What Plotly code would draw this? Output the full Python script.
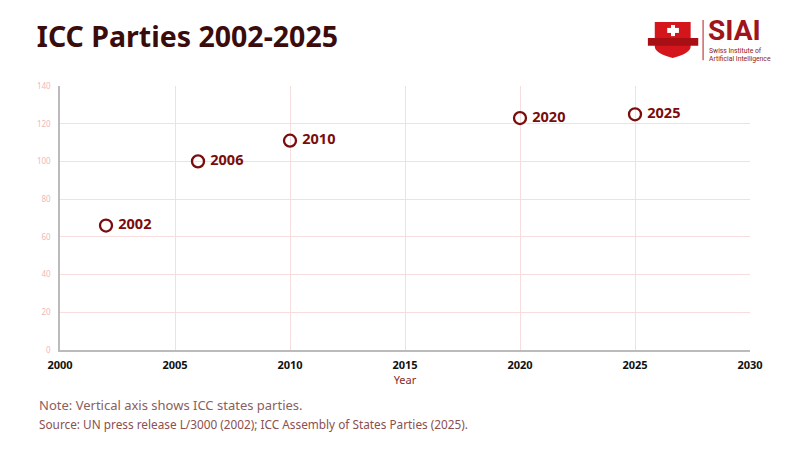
import plotly.graph_objects as go

years = [2002, 2006, 2010, 2020, 2025]
parties = [66, 100, 111, 123, 125]
labels = [str(y) for y in years]

dark = "#7a0c0c"
fig = go.Figure()
fig.add_trace(go.Scatter(
    x=years, y=parties, mode="markers+text",
    text=[" " + s for s in labels], textposition="middle right",
    textfont=dict(family="Noto Sans", size=14.5, color=dark, weight="bold"),
    marker=dict(symbol="circle-open", size=12, color=dark, line=dict(width=2.3, color=dark)),
    cliponaxis=False, showlegend=False, hoverinfo="skip",
))

fig.update_layout(
    width=800, height=450,
    margin=dict(l=52, r=58, t=78, b=108),
    paper_bgcolor="white", plot_bgcolor="white",
    font=dict(family="Noto Sans"),
    title=dict(text="<b>ICC Parties 2002-2025</b>", xref="container", x=0.036, xanchor="left",
               yref="container", y=0.935, yanchor="middle",
               font=dict(family="Noto Sans", size=28.5, color="#3b0c0c")),
    xaxis=dict(range=[2000, 2030], tickmode="linear", tick0=2000, dtick=5,
               showgrid=True, gridcolor="#f7dede", gridwidth=1,
               showline=True, linecolor="#bbbbbb", linewidth=1.5, zeroline=False,
               tickfont=dict(size=11, color="#111111", weight="bold"),
               title=dict(text="Year", font=dict(size=11, color="#8a2a2a"), standoff=4),
               ticks="", ticklabelstandoff=4),
    yaxis=dict(range=[0, 140], tickmode="linear", tick0=0, dtick=20,
               showgrid=True, gridcolor="#f7dede", gridwidth=1,
               showline=True, linecolor="#bbbbbb", linewidth=1.5, zeroline=False,
               tickfont=dict(size=8, color="#f0b8b8"), ticks="", ticklabelstandoff=6),
)

fig.add_annotation(text="Note: Vertical axis shows ICC states parties.", xref="paper", yref="paper",
                   x=-0.033, y=-0.208, xanchor="left", yanchor="middle", showarrow=False,
                   font=dict(size=13, color="#8a6060"))
fig.add_annotation(text="Source: UN press release L/3000 (2002); ICC Assembly of States Parties (2025).",
                   xref="paper", yref="paper", x=-0.033, y=-0.28, xanchor="left", yanchor="middle",
                   showarrow=False, font=dict(size=11.8, color="#8a5050"))

# Logo
red = "#d4161c"
fig.add_shape(type="path", xref="paper", yref="paper",
              path="M 0.862 1.242 L 0.914 1.242 L 0.914 1.15 Q 0.914 1.125 0.888 1.106 Q 0.862 1.125 0.862 1.15 Z",
              fillcolor=red, line=dict(width=0))
fig.add_shape(type="rect", xref="paper", yref="paper", x0=0.852, x1=0.925, y0=1.152, y1=1.182,
              fillcolor="#a80f14", line=dict(width=0))
fig.add_shape(type="rect", xref="paper", yref="paper", x0=0.8855, x1=0.8913, y0=1.189, y1=1.231,
              fillcolor="white", line=dict(width=0))
fig.add_shape(type="rect", xref="paper", yref="paper", x0=0.880, x1=0.897, y0=1.201, y1=1.220,
              fillcolor="white", line=dict(width=0))
fig.add_shape(type="line", xref="paper", yref="paper", x0=0.932, x1=0.932, y0=1.098, y1=1.25,
              line=dict(color="#c04040", width=1.2))
fig.add_annotation(text="<b>SIAI</b>", xref="paper", yref="paper", x=0.936, y=1.212, xanchor="left",
                   yanchor="middle", showarrow=False, font=dict(family="Roboto", size=28, color="#a0141a"))
fig.add_annotation(text="Swiss Institute of", xref="paper", yref="paper",
                   x=0.937, y=1.132, xanchor="left", yanchor="middle", showarrow=False,
                   font=dict(family="Roboto", size=6.8, color="#8a1a1a"))
fig.add_annotation(text="Artificial Intelligence", xref="paper", yref="paper",
                   x=0.937, y=1.104, xanchor="left", yanchor="middle", showarrow=False,
                   font=dict(family="Roboto", size=6.8, color="#8a1a1a"))

fig.write_html("out.html")
